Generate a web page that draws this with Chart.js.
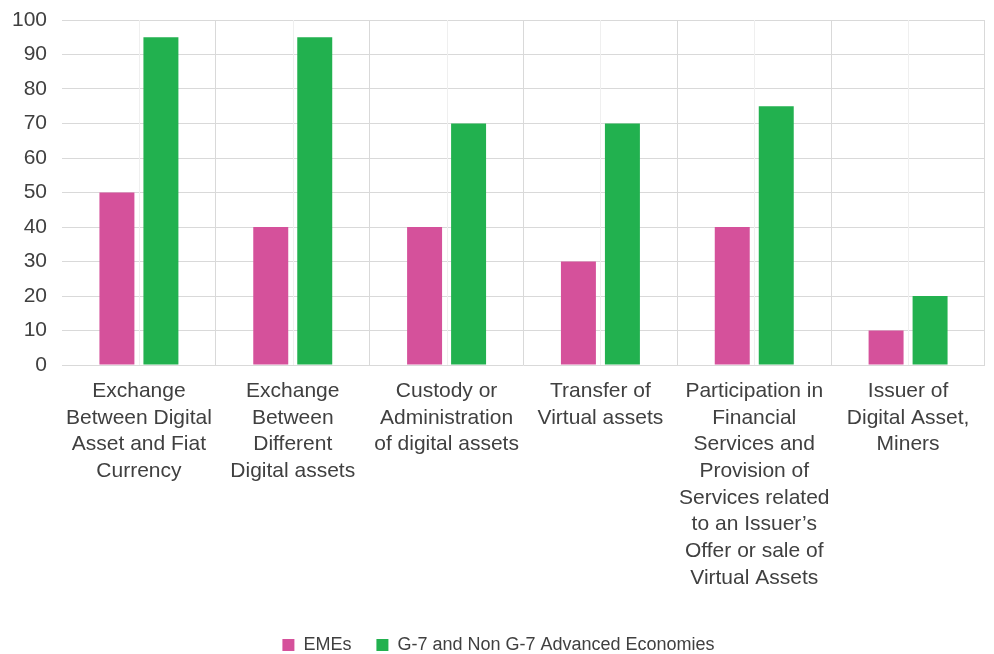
<!DOCTYPE html>
<html>
<head>
<meta charset="utf-8">
<script src="https://cdn.jsdelivr.net/npm/chart.js@4.4.0/dist/chart.umd.min.js"></script>
<style>
html,body{margin:0;padding:0;background:#fff;overflow:hidden;}
#wrap{width:994px;height:664px;position:relative;}
</style>
</head>
<body>
<div id="wrap"><canvas id="c"></canvas></div>
<script>
const categories = [
  ["Exchange","Between Digital","Asset and Fiat","Currency"],
  ["Exchange","Between","Different","Digital assets"],
  ["Custody or","Administration","of digital assets"],
  ["Transfer of","Virtual assets"],
  ["Participation in","Financial","Services and","Provision of","Services related","to an Issuer\u2019s","Offer or sale of","Virtual Assets"],
  ["Issuer of","Digital Asset,","Miners"]
];
const seriesNames = ["EMEs", "G-7 and Non G-7 Advanced Economies"];
const emes = [50, 40, 40, 30, 40, 10];
const advanced = [95, 95, 70, 70, 75, 20];
const yTicks = [0, 10, 20, 30, 40, 50, 60, 70, 80, 90, 100];

const FONT = "'Liberation Sans', Arial, sans-serif";
const TEXT = "#404040";

const centerLines = {
  id: 'centerLines',
  beforeDatasetsDraw(chart) {
    const {ctx, chartArea, scales} = chart;
    ctx.save();
    ctx.strokeStyle = '#efefef';
    ctx.lineWidth = 1;
    categories.forEach((_, i) => {
      const x = Math.round(scales.x.getPixelForValue(i)) + 0.5;
      ctx.beginPath();
      ctx.moveTo(x, chartArea.top);
      ctx.lineTo(x, chartArea.bottom);
      ctx.stroke();
    });
    ctx.restore();
  }
};

new Chart(document.getElementById('c'), {
  type: 'bar',
  data: {
    labels: categories,
    datasets: [
      { label: seriesNames[0], data: emes, backgroundColor: '#D5519B', categoryPercentage: 0.572, barPercentage: 0.795 },
      { label: seriesNames[1], data: advanced, backgroundColor: '#22B14F', categoryPercentage: 0.572, barPercentage: 0.795 }
    ]
  },
  plugins: [centerLines],
  options: {
    responsive: true,
    maintainAspectRatio: false,
    animation: false,
    layout: { padding: { left: 12, right: 9, top: 20, bottom: 0 } },
    plugins: {
      tooltip: { enabled: false },
      legend: {
        position: 'bottom',
        labels: {
          boxWidth: 12, boxHeight: 12, padding: 25,
          color: TEXT,
          font: { family: FONT, size: 18 }
        }
      }
    },
    scales: {
      x: {
        grid: {
          offset: true,
          drawTicks: false,
          color: (c) => c.index === 0 ? 'rgba(0,0,0,0)' : '#d9d9d9',
          lineWidth: 1
        },
        border: { display: false },
        ticks: {
          color: TEXT,
          padding: 13,
          maxRotation: 0,
          autoSkip: false,
          font: { family: FONT, size: 21, lineHeight: 1.27 }
        },
        afterFit: (s) => { s.height = 246; s.paddingTop = 0; s.paddingBottom = 0; }
      },
      y: {
        min: 0, max: 100,
        afterBuildTicks: (s) => { s.ticks = yTicks.map(v => ({ value: v })); },
        grid: { color: '#d9d9d9', drawTicks: false, lineWidth: 1 },
        border: { display: false },
        ticks: {
          color: TEXT,
          padding: 15,
          font: { family: FONT, size: 21 }
        },
        afterFit: (s) => { s.width = 50; s.paddingTop = 0; s.paddingBottom = 0; }
      }
    }
  }
});
</script>
</body>
</html>
